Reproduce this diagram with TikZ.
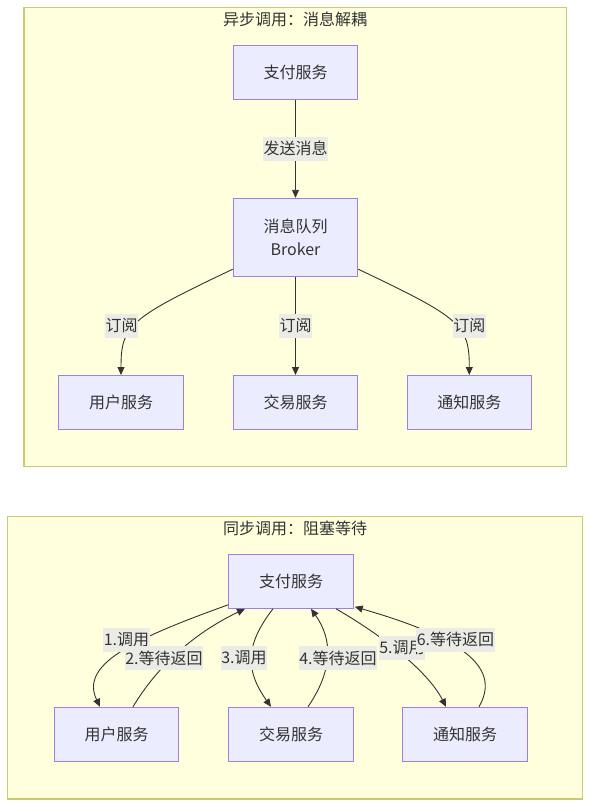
\documentclass[tikz,border=0pt]{standalone}
\usepackage{fontspec}
\setmainfont{Noto Sans CJK SC}
\usetikzlibrary{arrows.meta}
\definecolor{clfill}{HTML}{FFFFDE}
\definecolor{clline}{RGB}{202,202,112}
\definecolor{ndfill}{HTML}{ECECFF}
\definecolor{ndline}{HTML}{9F7FE0}
\definecolor{txt}{HTML}{333333}
\definecolor{lblbg}{RGB}{236,236,230}
\begin{document}
\begin{tikzpicture}[x=1pt,y=-1pt,
  cluster/.style={draw=clline,fill=clfill,line width=1.3pt},
  svc/.style={draw=ndline,fill=ndfill,line width=1pt,minimum width=124.5pt,minimum height=54pt,inner sep=0pt,text=txt,font=\fontsize{16pt}{23pt}\selectfont,align=center},
  ttl/.style={text=txt,font=\fontsize{16pt}{23pt}\selectfont,inner sep=0pt},
  lbl/.style={fill=lblbg,text=txt,font=\fontsize{16pt}{23pt}\selectfont,inner xsep=0.5pt,inner ysep=0pt,minimum height=24pt},
  flow/.style={draw=txt,line width=0.9pt,-{Triangle[length=8pt,width=7pt]}}
]
\useasboundingbox (0,0) rectangle (591,807);
\fill[white] (0,0) rectangle (591,807);

% ---- top cluster
\draw[cluster] (24,7.3) rectangle (566.3,466.7);
\node[ttl] (t1) at (295,19.5) {异步调用：消息解耦};
\node[svc] (pay1) at (295.5,72.3) {支付服务};
\node[svc,minimum height=78.4pt] (broker) at (295.5,237.5) {消息队列\\Broker};
\node[svc] (user1) at (121,402.5) {用户服务};
\node[svc] (trade1) at (295.5,402.5) {交易服务};
\node[svc] (notify1) at (469.3,402.5) {通知服务};

\draw[flow] (pay1.south) -- (broker.north);
\draw[flow] ([yshift=8pt]broker.south west) .. controls (130,318) and (121,325) .. (user1.north);
\draw[flow] (broker.south) -- (trade1.north);
\draw[flow] ([yshift=8pt]broker.south east) .. controls (461,318) and (469.3,325) .. (notify1.north);

\node[lbl] (l1) at (295.5,148.5) {发送消息};
\node[lbl] (l2) at (121.5,325.5) {订阅};
\node[lbl] (l3) at (295.5,325.5) {订阅};
\node[lbl] (l4) at (469.3,325.5) {订阅};

% ---- bottom cluster
\draw[cluster] (7.3,516.7) rectangle (582.7,799);
\node[ttl] (t2) at (295,528.5) {同步调用：阻塞等待};
\node[svc] (pay2) at (291,581.3) {支付服务};
\node[svc] (user2) at (116.7,734.3) {用户服务};
\node[svc] (trade2) at (291,734.3) {交易服务};
\node[svc] (notify2) at (465,734.3) {通知服务};

\draw[flow] ([yshift=4pt]pay2.south west) .. controls (130,640) and (80,665) .. ([xshift=-16.7pt]user2.north);
\draw[flow] ([xshift=16.3pt]user2.north) .. controls (155,670) and (190,635) .. ([xshift=-46pt]pay2.south);
\draw[flow] ([xshift=-18pt]pay2.south) .. controls (245,645) and (245,670) .. ([xshift=-20pt]trade2.north);
\draw[flow] ([xshift=17pt]trade2.north) .. controls (333,670) and (333,640) .. ([xshift=20pt]pay2.south);
\draw[flow] ([xshift=45pt]pay2.south) .. controls (390,640) and (430,675) .. ([xshift=-19pt]notify2.north);
\draw[flow] ([xshift=14pt]notify2.north) .. controls (500,670) and (470,640) .. ([yshift=2pt,xshift=1pt]pay2.south east);

\node[lbl] (b1) at (126.5,639.5) {1.调用};
\node[lbl] (b2) at (164,658) {2.等待返回};
\node[lbl] (b3) at (244,658) {3.调用};
\node[lbl] (b4) at (338,658) {4.等待返回};
\node[lbl] (b5) at (402,648) {5.调用};
\node[lbl] (b6) at (455.5,639.5) {6.等待返回};
\end{tikzpicture}
\end{document}
